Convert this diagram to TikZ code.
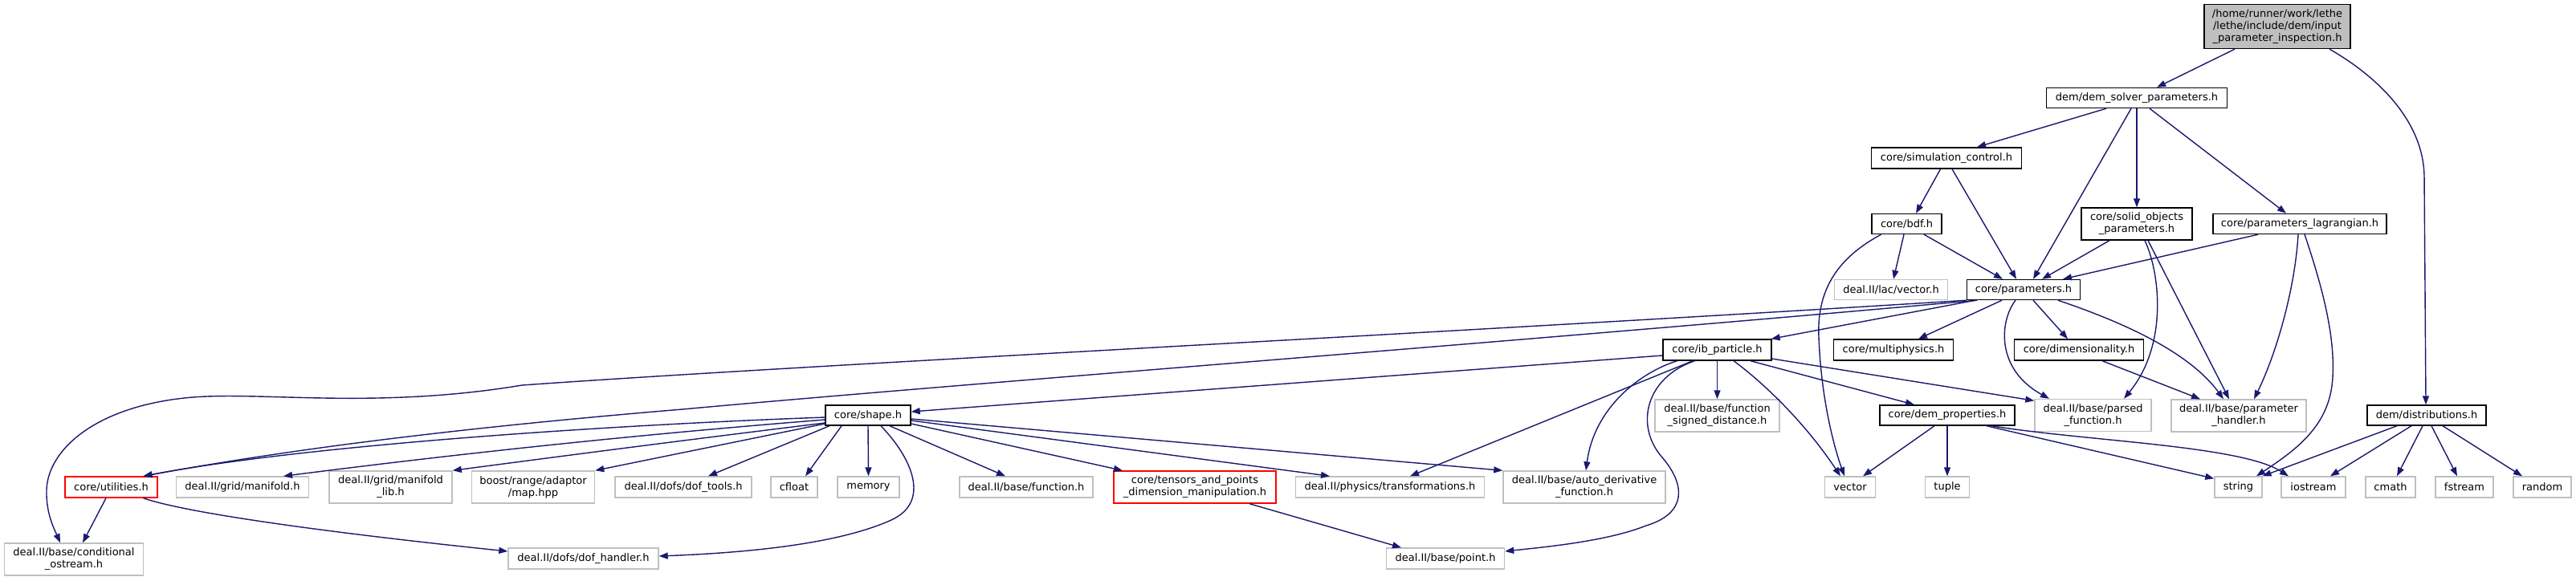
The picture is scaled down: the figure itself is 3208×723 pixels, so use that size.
\documentclass[tikz,border=0pt]{standalone}
\usepackage{fontspec}
\setmainfont{DejaVu Sans}
\usetikzlibrary{arrows.meta}
\definecolor{midblue}{HTML}{191970}
\definecolor{grey75}{HTML}{BFBFBF}
\newcommand\dxfont{\fontsize{13}{15}\selectfont}
\tikzset{
  sz/.style 2 args={minimum width=#1pt,minimum height=#2pt},
  nb/.style={draw=black, fill=white, line width=1.4pt, rectangle, inner sep=0pt, align=center, font=\dxfont},
  ng/.style={nb, draw=grey75},
  nr/.style={nb, draw=red},
  lnk/.style={draw=midblue, line width=1.4pt, -{Triangle[length=11pt,width=8pt]}, fill=none},
}
\begin{document}
\begin{tikzpicture}[x=1pt,y=-1pt]
\fill[white] (0,0) rectangle (3208,723);
\useasboundingbox (0,0) rectangle (3208,723);
% nodes
\node[nb, sz={182}{55}, fill=grey75] (root) at (2836,33) {/home/runner/work/lethe\\/lethe/include/dem/input\\\_parameter\_inspection.h};
\node[nb, sz={225}{25}] (dsp) at (2661,122) {dem/dem\_solver\_parameters.h};
\node[nb, sz={187}{26}] (simc) at (2424,197) {core/simulation\_control.h};
\node[nb, sz={87}{25}] (bdf) at (2374.5,279) {core/bdf.h};
\node[nb, sz={138}{40}] (solid) at (2661,279) {core/solid\_objects\\\_parameters.h};
\node[nb, sz={216}{25}] (plag) at (2864,279) {core/parameters\_lagrangian.h};
\node[ng, sz={141}{25}] (lacv) at (2355,361) {deal.II/lac/vector.h};
\node[nb, sz={141}{25}] (params) at (2520,361) {core/parameters.h};
\node[nb, sz={135}{26}] (ibp) at (2138.5,436) {core/ib\_particle.h};
\node[nb, sz={149}{26}] (mphys) at (2358,436) {core/multiphysics.h};
\node[nb, sz={161}{26}] (dimn) at (2589,436) {core/dimensionality.h};
\node[nb, sz={106}{25}] (shape) at (1081,517.5) {core/shape.h};
\node[ng, sz={155}{40}] (fsd) at (2138.5,518) {deal.II/base/function\\\_signed\_distance.h};
\node[nb, sz={168}{25}] (demp) at (2425,517.5) {core/dem\_properties.h};
\node[ng, sz={145}{40}] (pfun) at (2606.5,517.5) {deal.II/base/parsed\\\_function.h};
\node[ng, sz={168}{40}] (phand) at (2788,518) {deal.II/base/parameter\\\_handler.h};
\node[nb, sz={148}{25}] (dist) at (3022,517.5) {dem/distributions.h};
% row
\node[nr, sz={115}{26}] (util) at (138.5,607) {core/utilities.h};
\node[ng, sz={165}{26}] (mfld) at (302,607) {deal.II/grid/manifold.h};
\node[ng, sz={153}{40}] (mfldl) at (486.5,607) {deal.II/grid/manifold\\\_lib.h};
\node[ng, sz={153}{40}] (bmap) at (664,607) {boost/range/adaptor\\/map.hpp};
\node[ng, sz={170}{26}] (doft) at (851,607) {deal.II/dofs/dof\_tools.h};
\node[ng, sz={58}{26}] (cflt) at (989,607) {cfloat};
\node[ng, sz={77}{26}] (memo) at (1081.5,607) {memory};
\node[ng, sz={166}{26}] (func) at (1278,607) {deal.II/base/function.h};
\node[nr, sz={202}{40}] (tens) at (1488,607) {core/tensors\_and\_points\\\_dimension\_manipulation.h};
\node[ng, sz={235}{26}] (trans) at (1731,607) {deal.II/physics/transformations.h};
\node[ng, sz={202}{40}] (autod) at (1973,607) {deal.II/base/auto\_derivative\\\_function.h};
\node[ng, sz={63}{26}] (vect) at (2304,607) {vector};
\node[ng, sz={55}{26}] (tupl) at (2425,607) {tuple};
\node[ng, sz={59}{26}] (strg) at (2787.5,607) {string};
\node[ng, sz={80}{26}] (iost) at (2881,607) {iostream};
\node[ng, sz={62}{26}] (cmth) at (2977,607) {cmath};
\node[ng, sz={72}{26}] (fstr) at (3069,607) {fstream};
\node[ng, sz={72}{26}] (rand) at (3166,607) {random};
% bottom
\node[ng, sz={173}{40}] (condo) at (92,697) {deal.II/base/conditional\\\_ostream.h};
\node[ng, sz={187}{26}] (dofh) at (726.5,696) {deal.II/dofs/dof\_handler.h};
\node[ng, sz={147}{26}] (pnt) at (1800,696) {deal.II/base/point.h};
% edges root
\draw[lnk] ([xshift=-53pt]root.south) -- ([xshift=25pt]dsp.north);
\draw[lnk] ([xshift=65pt]root.south) .. controls (2960,95) and (3018,150) .. (3019,220) -- ([xshift=-1pt]dist.north);
% dsp
\draw[lnk] ([xshift=-38pt]dsp.south) -- ([xshift=38pt]simc.north);
\draw[lnk] ([xshift=-7pt]dsp.south) -- ([xshift=12pt]params.north);
\draw[lnk] (dsp.south) -- (solid.north);
\draw[lnk] ([xshift=16pt]dsp.south) -- ([xshift=-17pt]plag.north);
% simc
\draw[lnk] ([xshift=-7.5pt]simc.south) -- ([xshift=11.5pt]bdf.north);
\draw[lnk] ([xshift=7pt]simc.south) -- ([xshift=-9pt]params.north);
% bdf
\draw[lnk] ([xshift=21.5pt]bdf.south) -- ([xshift=-26pt]params.north);
\draw[lnk] ([xshift=-3.5pt]bdf.south) -- ([xshift=3pt]lacv.north);
\draw[lnk] ([xshift=-32pt]bdf.south) .. controls (2295,318) and (2262,355) .. (2265,420) .. controls (2268,500) and (2285,560) .. ([xshift=-7pt]vect.north);
% solid
\draw[lnk] ([xshift=-34pt]solid.south) -- ([xshift=23pt]params.north);
\draw[lnk] ([xshift=10pt]solid.south) .. controls (2690,340) and (2700,430) .. ([xshift=38.5pt]pfun.north);
\draw[lnk] ([xshift=14pt]solid.south) -- ([xshift=-12pt]phand.north);
% plag
\draw[lnk] ([xshift=-52pt]plag.south) -- ([xshift=49pt]params.north);
\draw[lnk] ([xshift=-2pt]plag.south) .. controls (2858,360) and (2835,440) .. ([xshift=19pt]phand.north);
\draw[lnk] ([xshift=6pt]plag.south) .. controls (2893,360) and (2908,420) .. (2905,470) .. controls (2902,530) and (2860,560) .. ([xshift=22.5pt]strg.north);
% params
\draw[lnk] ([xshift=-60pt]params.south) -- ([xshift=-1pt]ibp.north east);
\draw[lnk] ([xshift=-27pt]params.south) -- ([xshift=31pt]mphys.north);
\draw[lnk] ([xshift=12pt]params.south) -- ([xshift=-14pt]dimn.north);
\draw[lnk] ([xshift=-10pt]params.south) .. controls (2490,400) and (2485,460) .. ([xshift=-54.5pt]pfun.north);
\draw[lnk] ([xshift=43pt]params.south) .. controls (2615,392) and (2720,430) .. ([xshift=-19pt]phand.north);
\draw[lnk] ([xshift=-58pt]params.south) .. controls (1900,425) and (1200,478) .. (850,510) .. controls (550,535) and (350,562) .. ([xshift=40pt]util.north);
\draw[lnk] (params.south west) .. controls (1800,415) and (1000,455) .. (650,480) .. controls (470,510) and (330,488) .. (240,495) .. controls (120,505) and (60,560) .. (58,610) .. controls (57,640) and (68,660) .. ([xshift=-17pt]condo.north);
% shape
\draw[lnk] ([yshift=-2.5pt]shape.west) .. controls (750,530) and (380,555) .. ([xshift=40pt]util.north);
\draw[lnk] ([yshift=-5.5pt]shape.west) .. controls (750,545) and (520,572) .. ([xshift=51pt]mfld.north);
\draw[lnk] ([yshift=-9.5pt]shape.west) .. controls (800,555) and (650,575) .. (mfldl.north east);
\draw[lnk] ([yshift=-10.5pt]shape.west) -- (bmap.north east);
\draw[lnk] ([xshift=-48pt]shape.south) -- ([xshift=31pt]doft.north);
\draw[lnk] ([xshift=-33pt]shape.south) -- ([xshift=14pt]cflt.north);
\draw[lnk] (shape.south) -- (memo.north);
\draw[lnk] ([xshift=27pt]shape.south) -- ([xshift=-26pt]func.north);
\draw[lnk] ([yshift=-10.5pt]shape.east) -- ([xshift=-90pt]tens.north);
\draw[lnk] ([yshift=-6.5pt]shape.east) -- ([xshift=-75pt]trans.north);
\draw[lnk] ([yshift=-4.5pt]shape.east) -- (autod.north west);
\draw[lnk] ([xshift=16pt]shape.south) .. controls (1135,570) and (1160,625) .. (1110,648) .. controls (1050,675) and (950,688) .. ([yshift=3pt]dofh.east);
% tens
\draw[lnk] ([xshift=68pt]tens.south) -- ([xshift=-55pt]pnt.north);
% ibp
\draw[lnk] ([yshift=-7pt]ibp.west) -- ([yshift=4.5pt]shape.east);
\draw[lnk] (ibp.south) -- (fsd.north);
\draw[lnk] ([xshift=-30.5pt]ibp.south) -- ([xshift=25pt]trans.north);
\draw[lnk] ([xshift=-50pt]ibp.south) .. controls (2040,465) and (1985,510) .. ([xshift=2pt]autod.north);
\draw[lnk] ([xshift=-28pt]ibp.south) .. controls (2050,470) and (2035,530) .. (2070,570) .. controls (2100,605) and (2100,640) .. (2050,655) .. controls (2000,675) and (1920,682) .. ([yshift=9pt]pnt.east);
\draw[lnk] ([xshift=20.5pt]ibp.south) .. controls (2200,480) and (2250,530) .. ([xshift=-12pt]vect.north);
\draw[lnk] ([xshift=41.5pt]ibp.south) -- ([xshift=-41pt]demp.north);
\draw[lnk] ([yshift=-11pt]ibp.east) -- ([yshift=-2.5pt]pfun.north west);
% dimn
\draw[lnk] ([xshift=29pt]dimn.south) -- ([xshift=-48pt]phand.north);
% demp
\draw[lnk] ([xshift=-16pt]demp.south) -- ([xshift=16pt]vect.north);
\draw[lnk] (demp.south) -- (tupl.north);
\draw[lnk] ([xshift=49pt]demp.south) -- ([yshift=-3pt]strg.north west);
\draw[lnk] ([xshift=55pt]demp.south) .. controls (2600,550) and (2790,555) .. ([xshift=-31pt]iost.north);
% dist
\draw[lnk] ([xshift=-37pt]dist.south) -- ([xshift=30pt]strg.north);
\draw[lnk] ([xshift=-19pt]dist.south) -- ([xshift=21pt]iost.north);
\draw[lnk] ([xshift=-5pt]dist.south) -- ([xshift=8pt]cmth.north);
\draw[lnk] ([xshift=6pt]dist.south) -- ([xshift=-9pt]fstr.north);
\draw[lnk] ([xshift=20pt]dist.south) -- ([xshift=-25pt]rand.north);
% util
\draw[lnk] ([xshift=-6.5pt]util.south) -- ([xshift=11pt]condo.north);
\draw[lnk] ([xshift=40pt]util.south) .. controls (240,642) and (450,668) .. ([yshift=9pt]dofh.west);
\end{tikzpicture}
\end{document}
